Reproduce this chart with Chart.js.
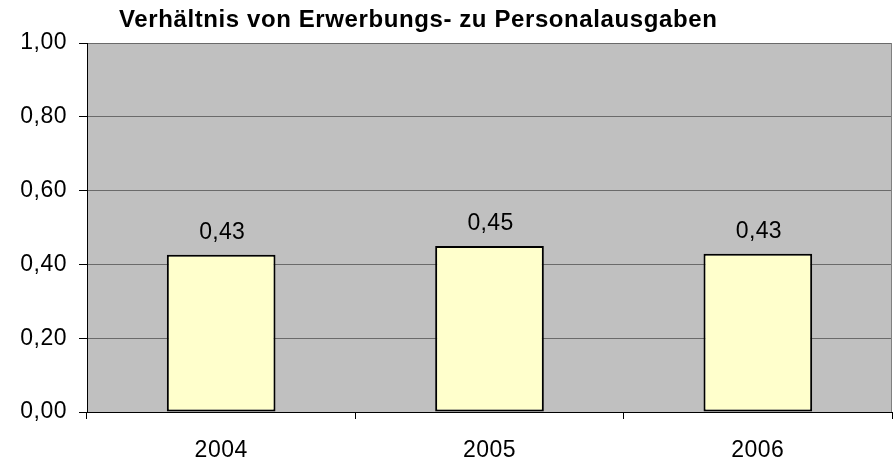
<!DOCTYPE html>
<html>
<head>
<meta charset="utf-8">
<script src="https://cdn.jsdelivr.net/npm/chart.js@4/dist/chart.umd.min.js"></script>
<style>
  html, body { margin: 0; padding: 0; background: #ffffff; }
  #wrap { width: 895px; height: 462px; position: relative; }
</style>
</head>
<body>
<div id="wrap"><canvas id="c" width="895" height="462"></canvas></div>
<script>
const chartTitle = "Verhältnis von Erwerbungs- zu Personalausgaben";
const categories = ["2004", "2005", "2006"];
const ratioValues = [0.426, 0.45, 0.429];
const yTicks = [0, 0.2, 0.4, 0.6, 0.8, 1.0];

const fmt = v => v.toFixed(2).replace('.', ',');
const FONT = '"Liberation Sans", Arial, sans-serif';

const plotBg = {
  id: 'plotBg',
  beforeDraw(chart) {
    const { ctx, chartArea: a } = chart;
    ctx.save();
    ctx.fillStyle = '#c0c0c0';
    ctx.fillRect(a.left, a.top, a.right - a.left, a.bottom - a.top);
    ctx.restore();
    ctx.letterSpacing = '0.5px';
  },
  afterDatasetsDraw(chart) {
    const { ctx, chartArea: a } = chart;
    ctx.save();
    ctx.strokeStyle = '#808080';
    ctx.lineWidth = 1;
    ctx.beginPath();
    ctx.moveTo(a.right - 0.5, a.top);
    ctx.lineTo(a.right - 0.5, a.bottom);
    ctx.stroke();
    // value labels
    const meta = chart.getDatasetMeta(0);
    ctx.fillStyle = '#000000';
    ctx.font = '23px ' + FONT;
    ctx.letterSpacing = '0.3px';
    ctx.textAlign = 'center';
    ctx.textBaseline = 'alphabetic';
    meta.data.forEach((bar, i) => {
      ctx.fillText(fmt(ratioValues[i]), bar.x + 1, bar.y - 16);
    });
    // title
    ctx.font = 'bold 24px ' + FONT;
    ctx.letterSpacing = '0.6px';
    ctx.textAlign = 'left';
    ctx.fillText(chartTitle, 119, 27);
    ctx.restore();
  }
};

new Chart(document.getElementById('c'), {
  type: 'bar',
  data: {
    labels: categories,
    datasets: [{
      data: ratioValues,
      backgroundColor: '#ffffcc',
      borderColor: '#000000',
      borderWidth: 2,
      borderSkipped: false,
      barPercentage: 0.405,
      categoryPercentage: 1.0
    }]
  },
  options: {
    responsive: false,
    animation: false,
    devicePixelRatio: 1,
    layout: { padding: { top: 43, right: 3, left: 0, bottom: 0 } },
    plugins: { legend: { display: false }, title: { display: false }, tooltip: { enabled: false } },
    scales: {
      x: {
        grid: { display: true, drawOnChartArea: false, offset: true, tickLength: 7, tickColor: '#000000', tickWidth: 1 },
        border: { display: true, color: '#000000', width: 1 },
        ticks: { color: '#000000', font: { family: FONT, size: 23 }, padding: 18, maxRotation: 0 },
        afterFit(scale) { scale.height = 50; }
      },
      y: {
        min: 0, max: 1,
        afterBuildTicks(scale) { scale.ticks = yTicks.map(v => ({ value: v })); },
        grid: { color: '#6a6a6a', lineWidth: 1, tickLength: 8, tickColor: '#000000' },
        border: { display: true, color: '#000000', width: 1 },
        ticks: { color: '#000000', font: { family: FONT, size: 23 }, padding: 12, callback: v => fmt(v) },
        afterFit(scale) { scale.width = 87; }
      }
    }
  },
  plugins: [plotBg]
});
</script>
</body>
</html>
